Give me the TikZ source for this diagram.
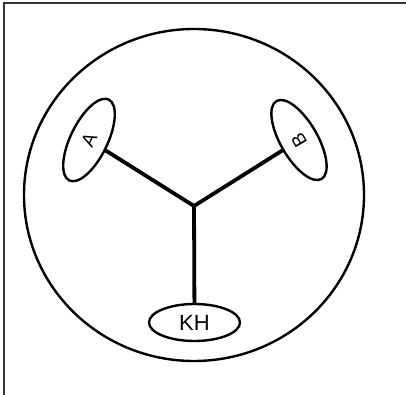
\documentclass[tikz,border=0pt]{standalone}
\usepackage{fontspec}
\setmainfont{Liberation Sans}
\usetikzlibrary{shapes.geometric}
\begin{document}
\begin{tikzpicture}[x=1pt,y=-1pt,
  frameline/.style={draw=black!80,line width=1.3pt},
  outer/.style={draw,line width=2.4pt},
  blob/.style={ellipse,draw,line width=2.4pt,inner sep=0pt,font=\fontsize{19}{19}\selectfont},
  link/.style={line width=3.8pt}]
\useasboundingbox (0,0) rectangle (406,395);
\draw[frameline] (4,395) -- (4,3) -- (406,3);
\draw[outer] (194,195) ellipse [x radius=170, y radius=166];
\node[blob,minimum width=90pt,minimum height=37pt,rotate=64] (A) at (89,140) {A};
\node[blob,minimum width=90pt,minimum height=37pt,rotate=120] (B) at (299,140) {B};
\node[blob,minimum width=91pt,minimum height=37pt,font=\fontsize{22}{22}\selectfont] (KH) at (194.5,322.5) {KH};
\coordinate (J) at (194,206);
\draw[link] (J) -- (A);
\draw[link] (J) -- (B);
\draw[link] (J) -- (KH);
\end{tikzpicture}
\end{document}
